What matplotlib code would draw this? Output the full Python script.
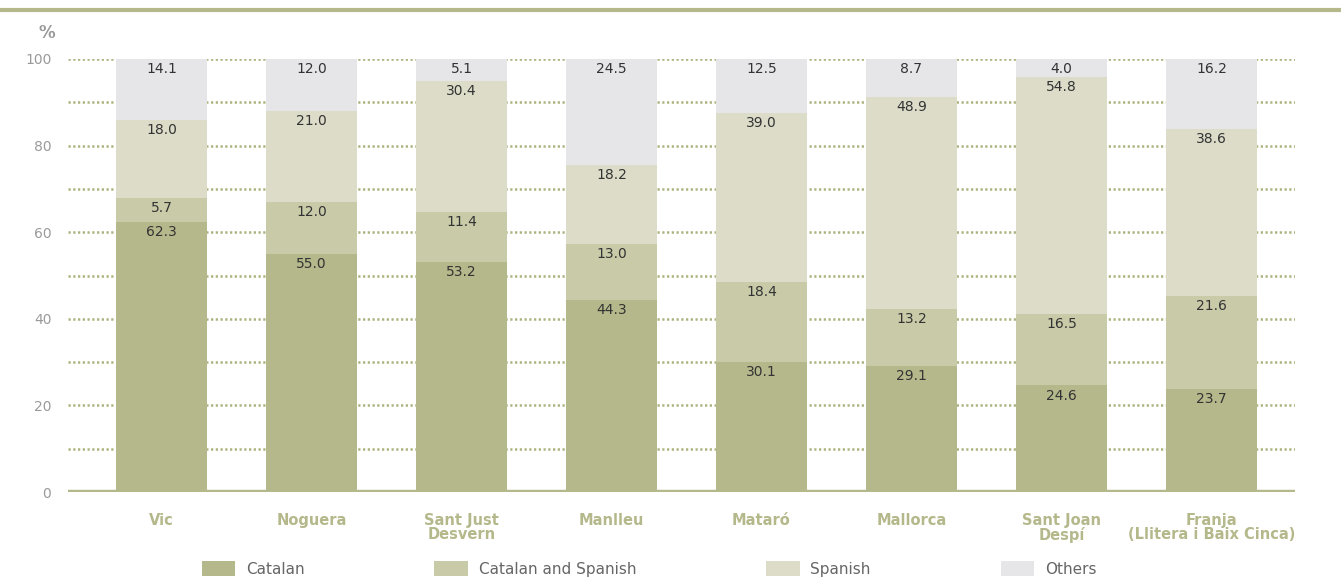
import matplotlib
matplotlib.use("Agg")
import matplotlib.pyplot as plt
from matplotlib.lines import Line2D
from matplotlib.patches import Patch
import numpy as np

categories = ["Vic", "Noguera", "Sant Just\nDesvern", "Manlleu", "Mataró",
              "Mallorca", "Sant Joan\nDespí", "Franja\n(Llitera i Baix Cinca)"]
catalan = [62.3, 55.0, 53.2, 44.3, 30.1, 29.1, 24.6, 23.7]
catalan_spanish = [5.7, 12.0, 11.4, 13.0, 18.4, 13.2, 16.5, 21.6]
spanish = [18.0, 21.0, 30.4, 18.2, 39.0, 48.9, 54.8, 38.6]
others = [14.1, 12.0, 5.1, 24.5, 12.5, 8.7, 4.0, 16.2]
series_names = ["Catalan", "Catalan and Spanish", "Spanish", "Others"]
yticks = [0, 20, 40, 60, 80, 100]

colors = ["#b5b88b", "#c9cba8", "#dcdcc9", "#e6e6e9"]
olive = "#b5b88b"
gray = "#9a9a9a"

plt.rcParams['font.family'] = ['DejaVu Sans']

fig = plt.figure(figsize=(13.41, 5.79), dpi=100)
ax = fig.add_axes([68/1341, 87/579, (1295-68)/1341, (492-59)/579])

x = np.arange(len(categories))
series = [catalan, catalan_spanish, spanish, others]
bottom = np.zeros(len(categories))
for vals, col in zip(series, colors):
    vals = np.array(vals)
    ax.bar(x, vals, bottom=bottom, width=0.607, color=col, zorder=3, linewidth=0)
    for xi, b, v in zip(x, bottom, vals):
        top = min(b + v, 100)
        ax.text(xi, top - 0.7, f"{v:.1f}", ha="center", va="top",
                fontsize=10, color="#333333", zorder=4)
    bottom = bottom + vals

# dotted gridlines
for g in range(10, 101, 10):
    ax.axhline(g, color="#adb27f", linestyle=(0, (0.9, 1.0)), linewidth=1.8, zorder=1)
ax.axhline(0, color=olive, linewidth=3.2, zorder=5)

ax.set_xlim(-0.623, 7.557)
ax.set_ylim(0, 100)
ax.set_yticks(yticks)
ax.set_yticklabels([str(t) for t in yticks], color=gray, fontsize=10)
ax.tick_params(axis="y", length=0, pad=12)
ax.set_xticks(x)
ax.set_xticklabels(categories, color=olive, fontsize=10.5, fontweight="bold",
                   linespacing=0.95, va="top")
ax.tick_params(axis="x", length=0, pad=15)
for s in ax.spines.values():
    s.set_visible(False)

fig.text(47/1341, 1 - 33/579, "%", color=gray, fontsize=12, fontweight="bold",
         ha="center", va="center")

# top rule
fig.add_artist(Line2D([0, 1], [1 - 10/579, 1 - 10/579], color=olive, linewidth=3,
                      transform=fig.transFigure))

handles = [Patch(facecolor=c, edgecolor="none") for c in colors]
fig.legend(handles, series_names, loc="center", bbox_to_anchor=(649/1341, 1 - 569/579),
           ncol=4, frameon=False, fontsize=11, handlelength=2.2, handleheight=1.1,
           columnspacing=8.5, handletextpad=0.7, labelcolor="#666666")

fig.savefig("out.png", dpi=100)
